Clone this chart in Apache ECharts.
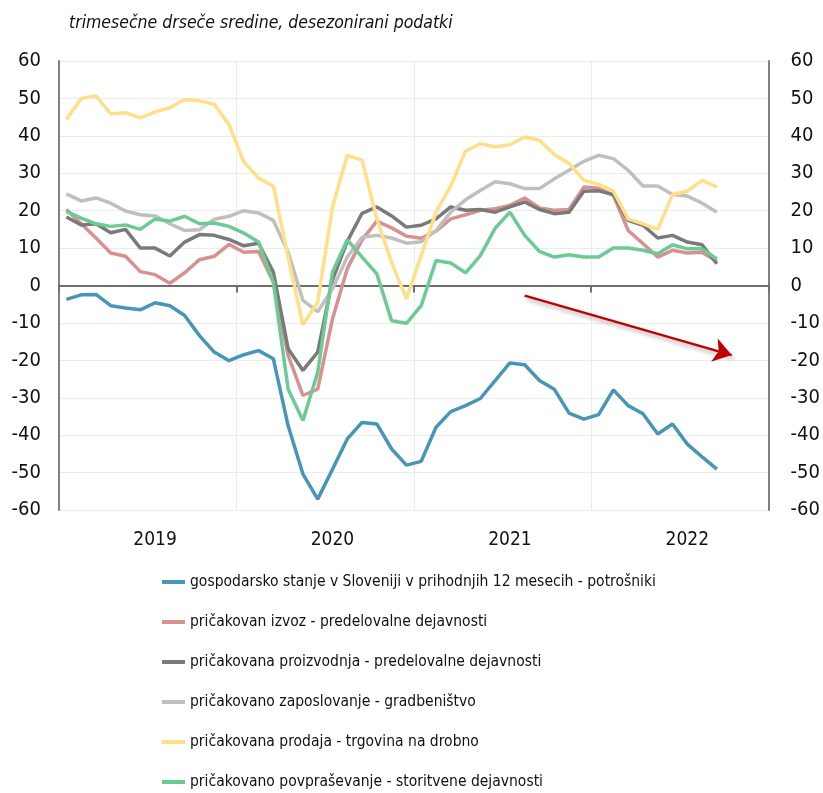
<!DOCTYPE html>
<html>
<head>
<meta charset="utf-8">
<script src="https://cdn.jsdelivr.net/npm/echarts@6/dist/echarts.min.js"></script>
<style>
  html, body { margin: 0; padding: 0; background: #fff; }
  #chart { width: 823px; height: 793px; }
</style>
</head>
<body>
<div id="chart"></div>
<script>
// months Jan 2019 .. Dec 2022 (last 3 months empty)
const years = ['2019', '2020', '2021', '2022'];
const months = [];
years.forEach(y => { for (let m = 1; m <= 12; m++) months.push(y + '-' + (m < 10 ? '0' + m : m)); });

const yTicks = [-60, -50, -40, -30, -20, -10, 0, 10, 20, 30, 40, 50, 60];

const names = [
    'gospodarsko stanje v Sloveniji v prihodnjih 12 mesecih - potrošniki',
    'pričakovan izvoz - predelovalne dejavnosti',
    'pričakovana proizvodnja - predelovalne dejavnosti',
    'pričakovano zaposlovanje - gradbeništvo',
    'pričakovana prodaja - trgovina na drobno',
    'pričakovano povpraševanje - storitvene dejavnosti'
];
const colors = ['#4896B6', '#D8918F', '#7A7A7A', '#BFBFBF', '#FFDF88', '#6CCB95'];

const potrosniki = [-3.7, -2.5, -2.4, -5.4, -6.0, -6.5, -4.6, -5.4, -8.0, -13.4, -17.8, -20.1,
    -18.5, -17.4, -19.6, -37.5, -50.4, -57.1, -49.1, -41.0, -36.6, -37.0, -43.7, -48.0,
    -47.0, -37.9, -33.7, -32.1, -30.2, -25.4, -20.7, -21.2, -25.4, -27.7, -34.1, -35.7,
    -34.5, -27.9, -32.1, -34.3, -39.7, -37.0, -42.4, -45.8, -49.1];
const izvoz = [20.3, 16.5, 12.7, 8.7, 7.8, 3.7, 2.9, 0.6, 3.4, 6.9, 7.8, 11.0,
    8.9, 9.1, 0.9, -18.7, -29.4, -27.7, -8.9, 4.5, 12.2, 17.2, 15.4, 13.2,
    12.6, 14.5, 17.8, 18.9, 20.1, 20.5, 21.4, 23.4, 20.7, 20.1, 20.3, 26.3,
    26.0, 24.1, 14.7, 11.2, 7.6, 9.4, 8.7, 8.9, 6.4];
const proizvodnja = [18.3, 16.2, 16.5, 14.1, 15.0, 10.0, 10.0, 7.9, 11.6, 13.6, 13.4, 12.3,
    10.6, 11.3, 3.6, -16.9, -22.7, -17.8, 1.5, 11.8, 19.3, 21.0, 18.6, 15.6,
    16.1, 17.8, 21.0, 20.1, 20.3, 19.6, 21.0, 22.3, 20.3, 19.2, 19.6, 25.2,
    25.3, 24.3, 17.4, 16.1, 12.7, 13.4, 11.6, 10.9, 5.8];
const zaposlovanje = [24.5, 22.6, 23.4, 22.0, 19.9, 18.9, 18.6, 16.5, 14.7, 14.9, 17.7, 18.5,
    20.0, 19.4, 17.4, 8.9, -4.0, -7.0, -0.9, 7.6, 12.9, 13.4, 12.7, 11.3,
    11.7, 14.7, 19.6, 22.9, 25.4, 27.7, 27.2, 25.9, 25.9, 28.5, 30.8, 33.2,
    34.8, 33.9, 30.8, 26.6, 26.6, 24.3, 23.9, 22.0, 19.6];
const prodaja = [44.4, 50.0, 50.7, 45.9, 46.2, 44.8, 46.4, 47.5, 49.7, 49.4, 48.4, 43.0,
    33.0, 28.7, 26.6, 7.5, -10.5, -4.5, 21.0, 34.8, 33.5, 17.8, 6.2, -3.6,
    8.0, 19.6, 26.6, 35.9, 37.9, 37.0, 37.6, 39.7, 38.8, 35.0, 32.6, 28.1,
    27.1, 25.2, 17.8, 16.5, 15.0, 24.3, 25.2, 28.1, 26.3];
const povprasevanje = [19.8, 18.0, 16.5, 15.8, 16.2, 15.0, 17.8, 17.2, 18.5, 16.5, 16.7, 15.8,
    14.0, 11.6, 0.9, -27.7, -36.1, -23.2, 3.6, 12.2, 7.6, 3.1, -9.4, -10.1,
    -5.4, 6.7, 6.0, 3.4, 8.0, 15.3, 19.6, 13.4, 9.1, 7.6, 8.2, 7.6,
    7.6, 10.0, 10.0, 9.4, 8.5, 10.9, 9.8, 9.8, 7.1];

// trend arrow (category index, value)
const arrowFrom = [31, -2.7];
const arrowTo = [45, -18.6];

const seriesData = [potrosniki, izvoz, proizvodnja, zaposlovanje, prodaja, povprasevanje];
const font = "'DejaVu Sans Condensed', 'Liberation Sans Narrow', sans-serif";

const myChart = echarts.init(document.getElementById('chart'));

const series = seriesData.map((d, k) => ({
    name: names[k],
    type: 'line',
    data: d,
    symbol: 'none',
    smooth: false,
    lineStyle: {width: 3.5, color: colors[k]},
    itemStyle: {color: colors[k]},
    z: 3 + k
}));
series[0].markLine = {
    silent: true,
    symbol: ['none', 'arrow'],
    symbolSize: 18,
    label: {show: false},
    lineStyle: {
        color: '#C00000', width: 2.5, type: 'solid',
        shadowColor: 'rgba(0,0,0,0.35)', shadowBlur: 4, shadowOffsetX: 2, shadowOffsetY: 3
    },
    itemStyle: {color: '#C00000'},
    data: [[{coord: arrowFrom}, {coord: arrowTo}]]
};

const option = {
    animation: false,
    title: {
        text: 'trimesečne drseče sredine, desezonirani podatki',
        left: 64,
        top: 9,
        textStyle: {fontFamily: font, fontStyle: 'italic', fontWeight: 'normal', fontSize: 17.5, color: '#111'}
    },
    legend: {
        orient: 'vertical',
        left: 162,
        top: 573,
        padding: 0,
        icon: 'rect',
        itemWidth: 23,
        itemHeight: 4,
        itemGap: 22,
        data: names,
        textStyle: {fontFamily: font, fontSize: 15.5, color: '#111', lineHeight: 18}
    },
    grid: {left: 59, right: 50, top: 61, bottom: 283},
    xAxis: [
        {
            type: 'category',
            data: months,
            position: 'bottom',
            axisLine: {show: false, onZero: false},
            axisTick: {show: false},
            axisLabel: {
                interval: (i) => i % 12 === 6,
                formatter: (v) => v.slice(0, 4),
                fontFamily: font, fontSize: 19, color: '#111', margin: 21
            },
            splitLine: {
                show: true,
                interval: (i) => i % 12 === 0,
                lineStyle: {color: '#ECECEC', width: 1}
            }
        },
        {
            type: 'category',
            data: months,
            position: 'bottom',
            axisLine: {show: true, onZero: true, onZeroAxisIndex: 0, lineStyle: {color: '#404040', width: 1.5}},
            axisTick: {show: true, interval: (i) => i % 12 === 0, length: 7, lineStyle: {color: '#707070', width: 2}},
            axisLabel: {show: false},
            splitLine: {show: false}
        }
    ],
    yAxis: [
        {
            type: 'value',
            min: -60, max: 60, interval: 10,
            axisLine: {show: true, lineStyle: {color: '#808080', width: 2}},
            axisTick: {show: false},
            axisLabel: {fontFamily: font, fontSize: 20, color: '#111', margin: 18},
            splitLine: {show: true, lineStyle: {color: '#ECECEC', width: 1}}
        },
        {
            type: 'value',
            position: 'right',
            min: -60, max: 60, interval: 10,
            axisLine: {show: true, lineStyle: {color: '#808080', width: 2}},
            axisTick: {show: false},
            axisLabel: {fontFamily: font, fontSize: 20, color: '#111', margin: 22},
            splitLine: {show: false}
        }
    ],
    series: series
};
myChart.setOption(option);
</script>
</body>
</html>
